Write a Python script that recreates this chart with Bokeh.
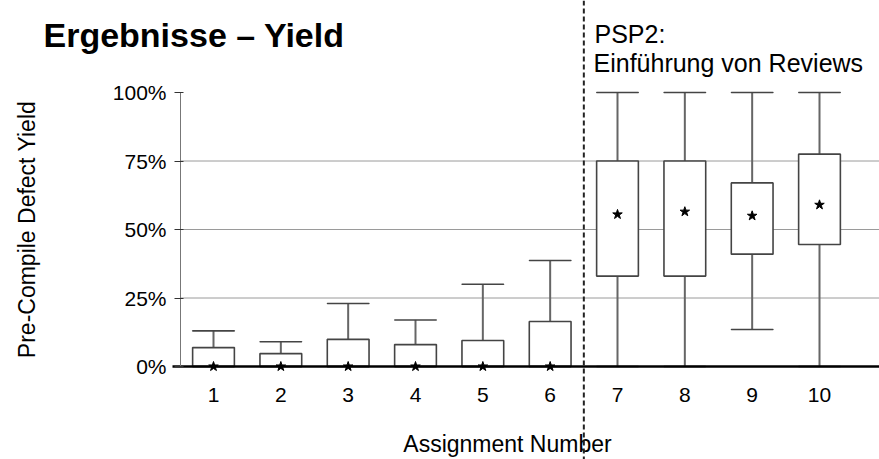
from bokeh.plotting import figure
from bokeh.models import (Range1d, LinearAxis, FixedTicker, NumeralTickFormatter,
                          Span, Label, ColumnDataSource)
from bokeh.embed import file_html
from bokeh.resources import INLINE

# ---------------- data ----------------
assignments = [1, 2, 3, 4, 5, 6, 7, 8, 9, 10]
q1 = [0.0, 0.0, 0.0, 0.0, 0.0, 0.0, 0.33, 0.33, 0.41, 0.445]
q3 = [0.069, 0.047, 0.099, 0.08, 0.095, 0.164, 0.75, 0.75, 0.67, 0.775]
whisker_low = [0.0, 0.0, 0.0, 0.0, 0.0, 0.0, 0.0, 0.0, 0.135, 0.0]
whisker_high = [0.13, 0.09, 0.23, 0.17, 0.30, 0.387, 1.0, 1.0, 1.0, 1.0]
means = [0.0, 0.0, 0.0, 0.0, 0.0, 0.0, 0.555, 0.565, 0.55, 0.59]
y_ticks = [0.0, 0.25, 0.5, 0.75, 1.0]
grid_values = [0.25, 0.5, 0.75]
x_labels = [str(a) for a in assignments]
phase_boundary = 6.5

title_text = "Ergebnisse \u2013 Yield"
note_line1 = "PSP2:"
note_line2 = "Einf\u00fchrung von Reviews"
x_title = "Assignment Number"
y_title = "Pre-Compile Defect Yield"

# ---------------- layout constants ----------------
W, H = 879, 459
X_PX = (819 - 213) / 9.0        # pixels per assignment
Y_PX = 274.0                    # pixels per 100 %
x_start = 1 - 213 / X_PX
x_end = x_start + W / X_PX
y_start = -(H - 366) / Y_PX
y_end = y_start + H / Y_PX

def xd(px):
    return x_start + px / X_PX

def yd(py):
    return y_end - py / Y_PX

FONT = "Liberation Sans"
BOX_W = 0.62

p = figure(width=W, height=H, output_backend="svg", toolbar_location=None,
           x_range=Range1d(x_start, x_end), y_range=Range1d(y_start, y_end),
           x_axis_location=None, y_axis_location=None,
           min_border=0, min_border_left=0, min_border_right=0,
           min_border_top=0, min_border_bottom=0)
p.outline_line_color = None
p.background_fill_color = "white"
p.border_fill_color = "white"
p.grid.visible = False

y_axis_x = xd(180)

# grid lines (start at the y axis)
p.segment(x0=[y_axis_x] * len(grid_values), x1=[x_end] * len(grid_values),
          y0=grid_values, y1=grid_values, line_color="#9a9a9a", line_width=1)

src = ColumnDataSource(dict(x=assignments, q1=q1, q3=q3, lo=whisker_low,
                            hi=whisker_high, mean=means))

# whiskers
p.segment(x0="x", x1="x", y0="lo", y1="hi", source=src,
          line_color="#666666", line_width=2)
# boxes
p.vbar(x="x", width=BOX_W, bottom="q1", top="q3", source=src,
       fill_color="white", line_color="#444444", line_width=1.6)
# caps
p.rect(x="x", y="hi", width=BOX_W, height=0.0001, source=src,
       fill_color=None, line_color="#444444", line_width=1.5)
p.rect(x="x", y="lo", width=BOX_W, height=0.0001, source=src,
       fill_color=None, line_color="#444444", line_width=1.5)
# mean markers
p.scatter(x="x", y="mean", source=src, marker="star", size=10,
          fill_color="black", line_color="black")

# axes
yaxis = LinearAxis(fixed_location=y_axis_x, bounds=(0, 1),
                   ticker=FixedTicker(ticks=y_ticks),
                   formatter=NumeralTickFormatter(format="0%"),
                   axis_label=y_title)
yaxis.axis_line_color = "#777777"
yaxis.axis_line_width = 1
yaxis.major_tick_line_color = "#333333"
yaxis.major_tick_out = 6
yaxis.major_tick_in = 3
yaxis.minor_tick_line_color = None
yaxis.major_label_standoff = 8
yaxis.major_label_text_font = FONT
yaxis.major_label_text_font_size = "21px"
yaxis.major_label_text_color = "black"
yaxis.axis_label_text_font = FONT
yaxis.axis_label_text_font_size = "23px"
yaxis.axis_label_text_font_style = "normal"
yaxis.axis_label_text_color = "black"
yaxis.axis_label_standoff = 70
p.add_layout(yaxis, "left")

# baseline axis (line only)
xline = LinearAxis(fixed_location=0, bounds=(xd(172), x_end),
                   ticker=FixedTicker(ticks=[]))
xline.axis_line_color = "black"
xline.axis_line_width = 2.5
xline.major_tick_line_color = None
xline.minor_tick_line_color = None
xline.major_label_text_font_size = "0px"
p.add_layout(xline, "below")

# labelled x axis
xaxis = LinearAxis(fixed_location=0, bounds=(xd(172), xd(842)),
                   ticker=FixedTicker(ticks=assignments), axis_label=x_title)
xaxis.major_label_overrides = {a: s for a, s in zip(assignments, x_labels)}
xaxis.axis_line_color = None
xaxis.major_tick_line_color = None
xaxis.minor_tick_line_color = None
xaxis.major_label_standoff = 15
xaxis.major_label_text_font = FONT
xaxis.major_label_text_font_size = "21px"
xaxis.major_label_text_color = "black"
xaxis.axis_label_text_font = FONT
xaxis.axis_label_text_font_size = "23px"
xaxis.axis_label_text_font_style = "normal"
xaxis.axis_label_text_color = "black"
xaxis.axis_label_standoff = 26
p.add_layout(xaxis, "below")

# phase boundary
p.add_layout(Span(location=phase_boundary, dimension="height",
                  line_color="#222222", line_width=2, line_dash="5 3"))

# texts
p.add_layout(Label(x=xd(43), y=yd(34), text=title_text, text_font=FONT,
                   text_font_size="34px", text_font_style="bold",
                   text_color="black", text_baseline="alphabetic"))
p.add_layout(Label(x=xd(594), y=yd(33), text=note_line1, text_font=FONT,
                   text_font_size="25px", text_color="black",
                   text_baseline="alphabetic"))
p.add_layout(Label(x=xd(593), y=yd(62), text=note_line2, text_font=FONT,
                   text_font_size="25px", text_color="black",
                   text_baseline="alphabetic"))

open("out.html", "w").write(file_html(p, INLINE))
